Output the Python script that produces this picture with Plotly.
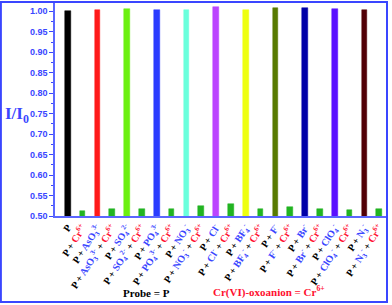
import plotly.graph_objects as go

# anions paired with probe (P alone first)
anions = ["", "AsO<sub>3</sub><sup>3-</sup>", "SO<sub>4</sub><sup>2-</sup>",
          "PO<sub>4</sub><sup>3-</sup>", "NO<sub>3</sub><sup>-</sup>", "Cl<sup>-</sup>",
          "BF<sub>4</sub><sup>-</sup>", "F<sup>-</sup>", "Br<sup>-</sup>",
          "ClO<sub>4</sub><sup>-</sup>", "N<sub>3</sub><sup>-</sup>"]
anion_vals = [1.001, 1.002, 1.005, 1.004, 1.004, 1.011, 1.002, 1.009, 1.007, 1.006, 1.002]
cr_vals = [0.512, 0.516, 0.517, 0.517, 0.524, 0.529, 0.516, 0.522, 0.517, 0.515, 0.516]
bar_colors = ["#000000", "#ff1a1a", "#6cf010", "#2b3cff", "#6affdc", "#bb44ff",
              "#eeff10", "#587a00", "#0000a8", "#5a10ff", "#520006"]
cr_color = "#22b422"
yticks = [0.50, 0.55, 0.60, 0.65, 0.70, 0.75, 0.80, 0.85, 0.90, 0.95, 1.00]

BLUE = "#3a46ff"
RED = "#ff1030"
CR = '<span style="color:%s">Cr<sup>6+</sup></span>' % RED

xs, ys, cols, labels = [], [], [], []
for i, a in enumerate(anions):
    if a:
        base = 'P + <span style="color:%s">%s</span>' % (BLUE, a)
    else:
        base = "P"
    xs += [2 * i, 2 * i + 1]
    ys += [anion_vals[i], cr_vals[i]]
    cols += [bar_colors[i], cr_color]
    labels += [base, base + ' + ' + CR]

fig = go.Figure(go.Bar(x=xs, y=ys, width=0.38, marker_color=cols,
                       marker_line=dict(width=0.5, color=cols)))

fig.update_layout(
    width=392, height=305,
    margin=dict(l=55, r=5, t=2, b=89),
    plot_bgcolor="white", paper_bgcolor="white",
    showlegend=False,
    bargap=0,
    xaxis=dict(range=[-0.856, 21.52], tickvals=xs, ticktext=labels, automargin=False,
               tickangle=-57, ticks="", showgrid=False, zeroline=False,
               showline=True, linecolor="#5a66ff", linewidth=1.5,
               tickfont=dict(family="Liberation Serif", size=10, color="black", weight="bold")),
    yaxis=dict(range=[0.5, 1.0227], tickvals=yticks, tickformat=".2f", automargin=False,
               ticks="outside", ticklen=4, tickcolor=BLUE, tickwidth=1,
               minor=dict(dtick=0.025, tick0=0.5, ticks="outside", ticklen=2, tickcolor=BLUE),
               showgrid=False, zeroline=False,
               showline=True, linecolor="#5a66ff", linewidth=1.5,
               tickfont=dict(family="Liberation Sans", size=9, color=BLUE, weight="bold")),
)

# outer blue frame
fig.add_shape(type="rect", xref="paper", yref="paper",
              x0=-0.163, x1=1.0, y0=-0.402, y1=1.0,
              line=dict(color=BLUE, width=2))

fig.add_annotation(text="I/I<sub>0</sub>", xref="paper", yref="paper",
                   x=-0.157, y=0.47, xanchor="left", yanchor="middle", showarrow=False,
                   font=dict(family="Liberation Serif", size=17, color=BLUE, weight="bold"))
fig.add_annotation(text="Probe = P", xref="paper", yref="paper",
                   x=0.275, y=-0.358, xanchor="center", yanchor="middle", showarrow=False,
                   font=dict(family="Liberation Serif", size=11, color="black", weight="bold"))
fig.add_annotation(text="Cr(VI)-oxoanion = Cr<sup>6+</sup>", xref="paper", yref="paper",
                   x=0.645, y=-0.355, xanchor="center", yanchor="middle", showarrow=False,
                   font=dict(family="Liberation Serif", size=11, color=RED, weight="bold"))

fig.write_html("out.html", config={"displayModeBar": False},
               post_script="document.body.style.margin='0';")
